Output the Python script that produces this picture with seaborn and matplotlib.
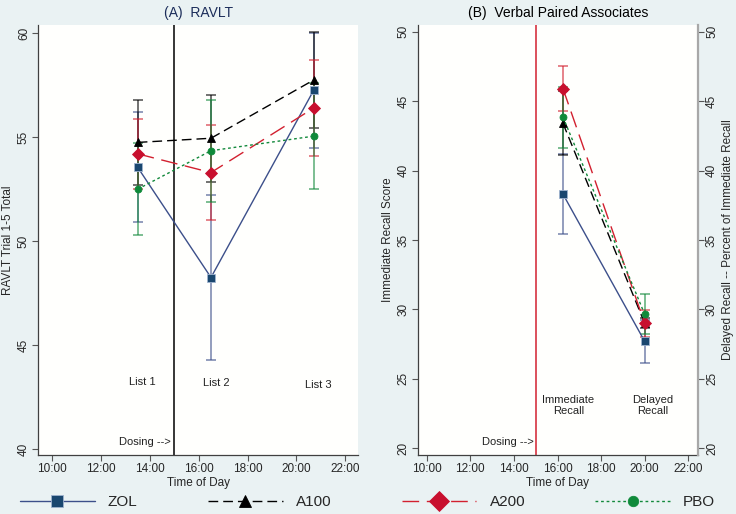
import matplotlib
matplotlib.use("Agg")
import matplotlib.pyplot as plt
import seaborn as sns
import pandas as pd

# ---------------- data ----------------
groups = ["ZOL", "A100", "A200", "PBO"]

# Panel A: RAVLT (time of day in hours)
ravlt_time = [13.5, 16.5, 20.7]
ravlt_labels = ["List 1", "List 2", "List 3"]
zol_ravlt = [53.55, 48.25, 57.25]
zol_ravlt_err = [2.65, 3.95, 2.75]
a100_ravlt = [54.75, 54.95, 57.75]
a100_ravlt_err = [2.05, 2.1, 2.3]
a200_ravlt = [54.2, 53.3, 56.4]
a200_ravlt_err = [1.7, 2.3, 2.3]
pbo_ravlt = [52.5, 54.35, 55.05]
pbo_ravlt_err = [2.2, 2.45, 2.55]

# Panel B: Verbal Paired Associates
vpa_time = [16.25, 20.0]
vpa_labels = ["Immediate\nRecall", "Delayed\nRecall"]
zol_vpa = [38.3, 27.7]
zol_vpa_err = [2.9, 1.55]
a100_vpa = [43.4, 29.0]
a100_vpa_err = [2.3, 0.35]
a200_vpa = [45.9, 29.0]
a200_vpa_err = [1.6, 0.95]
pbo_vpa = [43.85, 29.65]
pbo_vpa_err = [2.2, 1.45]

dosing_time = 15.0
hour_ticks = [10, 12, 14, 16, 18, 20, 22]
ravlt_yticks = [40, 45, 50, 55, 60]
vpa_yticks = [20, 25, 30, 35, 40, 45, 50]

# ---------------- style ----------------
sns.set_theme(style="white")
plt.rcParams["font.family"] = ["Liberation Sans", "DejaVu Sans"]

BG = "#EAF2F3"
colors = {"ZOL": "#3c4f8a", "A100": "#000000", "A200": "#d2202f", "PBO": "#12893b"}
mfc = {"ZOL": "#1a476f", "A100": "#000000", "A200": "#c8102e", "PBO": "#0f8a3a"}
mec = {"ZOL": "#9fb3cf", "A100": "#000000", "A200": "#c8102e", "PBO": "#0f8a3a"}
markers = {"ZOL": "s", "A100": "^", "A200": "D", "PBO": "o"}
msizes = {"ZOL": 5.5, "A100": 6.0, "A200": 6.5, "PBO": 5.0}
lstyles = {"ZOL": "-", "A100": (0, (7, 3.6)), "A200": (0, (12, 5.5)), "PBO": (0, (2, 2))}

fig = plt.figure(figsize=(7.36, 5.14), dpi=100, facecolor=BG)
axA = fig.add_axes([0.052, 0.1148, 0.4348, 0.8366])
axB = fig.add_axes([0.5683, 0.1148, 0.3796, 0.8366])


def draw_panel(ax, times, series):
    handles = []
    for g, (vals, errs) in series.items():
        ax.errorbar(times, vals, yerr=errs, fmt="none", ecolor=colors[g],
                    elinewidth=1.1, capsize=3.5, capthick=1.1, alpha=0.7, zorder=3)
    for g, (vals, errs) in series.items():
        df = pd.DataFrame({"time": times, "score": vals})
        sns.lineplot(data=df, x="time", y="score", ax=ax, color=colors[g],
                     linestyle=lstyles[g], linewidth=1.0, marker=markers[g],
                     markersize=msizes[g], markerfacecolor=mfc[g],
                     markeredgecolor=mec[g], markeredgewidth=0.6,
                     zorder=4, label=g, legend=False)
        handles.append(ax.lines[-1])
    return handles


def style_axes(ax):
    ax.set_facecolor("#FFFFFD")
    ax.set_xticks(hour_ticks)
    ax.set_xticklabels([f"{h}:00" for h in hour_ticks])
    ax.tick_params(axis="both", direction="out", length=4, width=0.8,
                   color="#555555", labelsize=8.5, pad=2, bottom=True, left=True)
    for lab in ax.get_yticklabels():
        lab.set_rotation(90)
        lab.set_va("center")
    ax.set_xlabel("Time of Day", fontsize=8.5, labelpad=1)
    for s in ["top", "right"]:
        ax.spines[s].set_visible(False)
    for s in ["left", "bottom"]:
        ax.spines[s].set_color("#404040")
        ax.spines[s].set_linewidth(0.9)


# Panel A
hA = draw_panel(axA, ravlt_time, {
    "ZOL": (zol_ravlt, zol_ravlt_err),
    "A100": (a100_ravlt, a100_ravlt_err),
    "A200": (a200_ravlt, a200_ravlt_err),
    "PBO": (pbo_ravlt, pbo_ravlt_err),
})
axA.axvline(dosing_time, color="black", linewidth=1.1, zorder=2)
axA.set_xlim(9.43, 22.53)
axA.set_ylim(39.71, 60.4)
axA.set_yticks(ravlt_yticks)
style_axes(axA)
axA.set_ylabel("RAVLT Trial 1-5 Total", fontsize=8.5, labelpad=3)
axA.set_title("(A)  RAVLT", fontsize=10, color="#1c2d5a", pad=6)
for t, lab, yy in zip(ravlt_time, ravlt_labels, [43.2, 43.15, 43.1]):
    axA.text(t + 0.2, yy, lab, ha="center", va="center", fontsize=8, color="#222222")
axA.text(dosing_time - 0.15, 40.35, "Dosing -->", ha="right", va="center",
         fontsize=8, color="#222222")

# Panel B
hB = draw_panel(axB, vpa_time, {
    "ZOL": (zol_vpa, zol_vpa_err),
    "A100": (a100_vpa, a100_vpa_err),
    "A200": (a200_vpa, a200_vpa_err),
    "PBO": (pbo_vpa, pbo_vpa_err),
})
axB.axvline(dosing_time, color="#d2202f", linewidth=1.1, zorder=2)
axB.set_xlim(9.61, 22.43)
axB.set_ylim(19.52, 50.48)
axB.set_yticks(vpa_yticks)
style_axes(axB)
axB.set_ylabel("Immediate Recall Score", fontsize=8.5, labelpad=3)
axB.set_title("(B)  Verbal Paired Associates", fontsize=10, color="black", pad=6)
for t, lab in zip([16.5, 20.37], vpa_labels):
    axB.text(t, 23.1, lab, ha="center", va="center", fontsize=8, color="#222222",
             linespacing=1.1)
axB.text(dosing_time - 0.07, 20.45, "Dosing -->", ha="right", va="center",
         fontsize=8, color="#222222")

axR = axB.twinx()
axR.set_ylim(axB.get_ylim())
axR.set_yticks(vpa_yticks)
axR.tick_params(axis="y", direction="out", length=4, width=0.8, color="#555555",
                labelsize=8.5, pad=2, right=True)
for lab in axR.get_yticklabels():
    lab.set_rotation(90)
    lab.set_va("center")
axR.set_ylabel("Delayed Recall -- Percent of Immediate Recall", fontsize=8.5,
               labelpad=3)
for s in ["top", "left", "bottom"]:
    axR.spines[s].set_visible(False)
axR.spines["right"].set_color("#a8a8a8")
axR.spines["right"].set_linewidth(1.6)

# Legend
leg = fig.legend(hA, groups, loc="center left", bbox_to_anchor=(20 / 736, 12 / 514),
                 ncol=4, frameon=False, fontsize=11, handlelength=4.9,
                 handletextpad=0.85, columnspacing=4.6, borderpad=0,
                 borderaxespad=0, markerscale=1.5)

fig.savefig("out.png", dpi=100, facecolor=BG)
